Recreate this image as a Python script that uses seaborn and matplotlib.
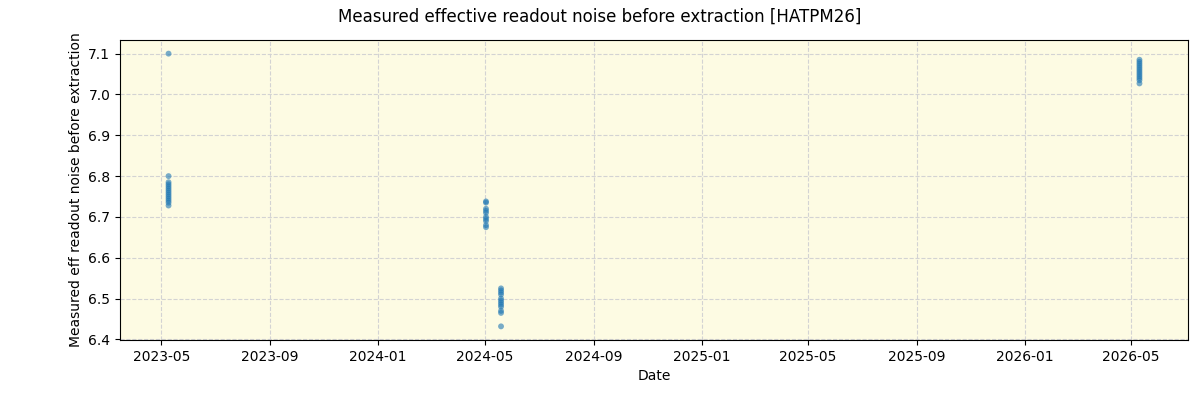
import pandas as pd
import matplotlib.pyplot as plt
import matplotlib.dates as mdates
import seaborn as sns

dates_a = ["2023-05-09"] * 14
noise_a = [7.10, 6.80, 6.785, 6.78, 6.775, 6.77, 6.765, 6.76, 6.755, 6.75, 6.745, 6.74, 6.735, 6.728]

dates_b = ["2024-05-02"] * 10
noise_b = [6.738, 6.735, 6.72, 6.715, 6.71, 6.70, 6.695, 6.69, 6.68, 6.675]

dates_c = ["2024-05-19"] * 12
noise_c = [6.525, 6.52, 6.515, 6.51, 6.50, 6.495, 6.49, 6.485, 6.48, 6.47, 6.465, 6.432]

dates_d = ["2026-05-11"] * 12
noise_d = [7.085, 7.08, 7.075, 7.07, 7.065, 7.06, 7.055, 7.05, 7.045, 7.04, 7.035, 7.027]

df = pd.DataFrame({
    "date": pd.to_datetime(dates_a + dates_b + dates_c + dates_d),
    "noise": noise_a + noise_b + noise_c + noise_d,
})

fig, ax = plt.subplots(figsize=(12, 4), dpi=100)
ax.set_facecolor("#fdfbe3")
sns.scatterplot(data=df, x="date", y="noise", ax=ax, s=18, color="tab:blue",
                alpha=0.6, edgecolor="none", zorder=3)
ax.grid(True, linestyle="--", color="lightgray", zorder=0)
ax.set_axisbelow(True)
ax.xaxis.set_major_locator(mdates.MonthLocator(bymonth=[1, 5, 9]))
ax.xaxis.set_major_formatter(mdates.DateFormatter("%Y-%m"))
ax.set_xlabel("Date")
ax.set_ylabel("Measured eff readout noise before extraction")
fig.suptitle("Measured effective readout noise before extraction [HATPM26]")
fig.subplots_adjust(left=0.1, right=0.99, top=0.9, bottom=0.15)
fig.savefig("out.png")
